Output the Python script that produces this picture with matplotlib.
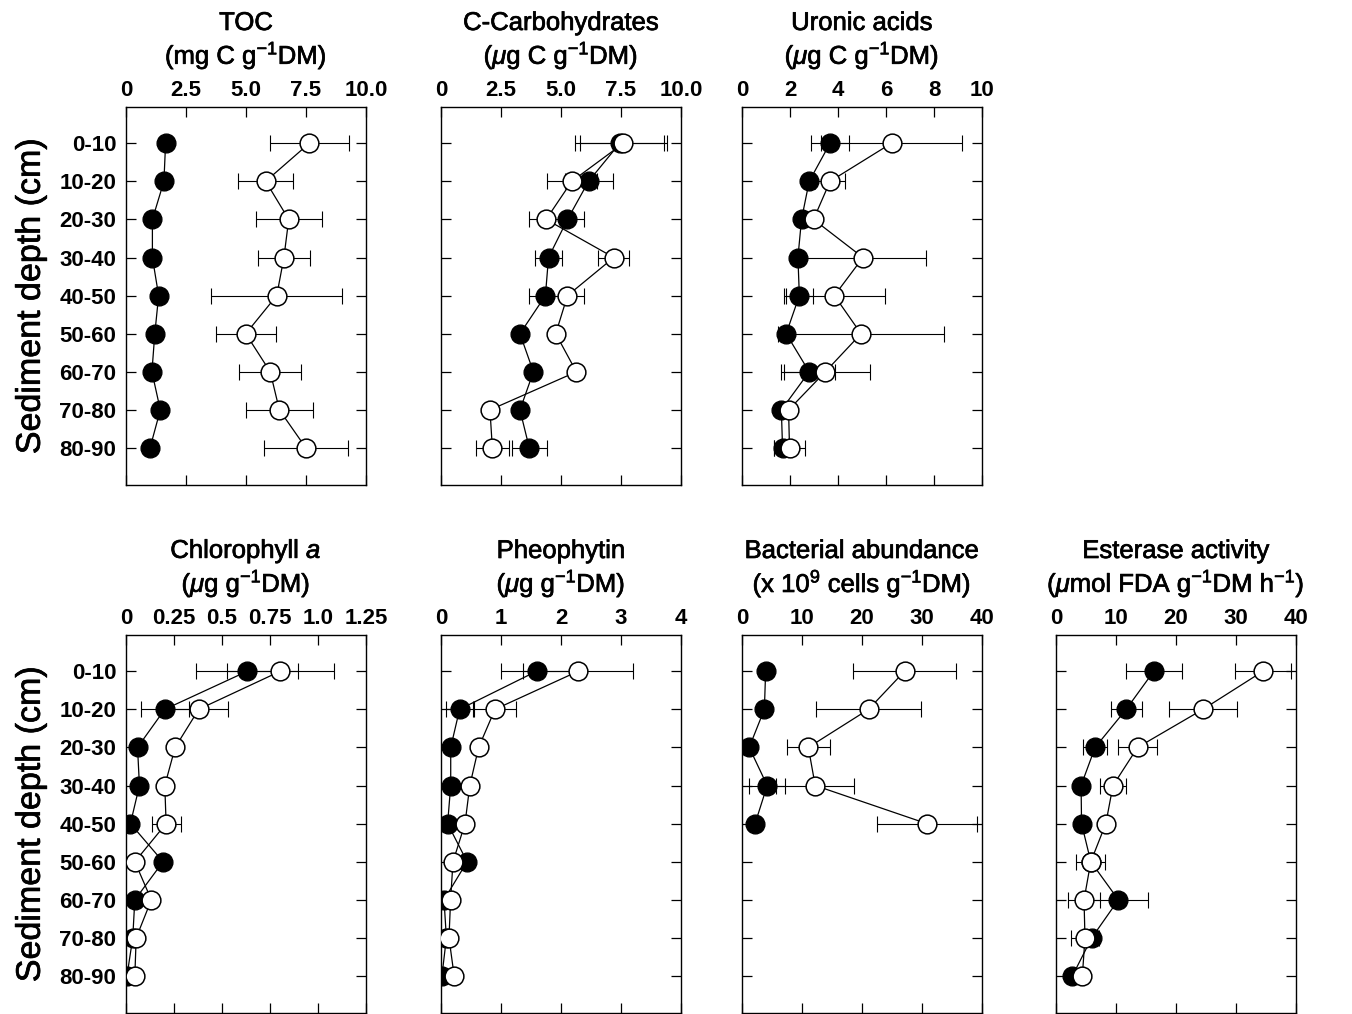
import numpy as np
import matplotlib
matplotlib.use("Agg")
import matplotlib.pyplot as plt
import matplotlib.patheffects as pe

plt.rcParams['font.family'] = ['Liberation Sans', 'DejaVu Sans']
plt.rcParams['mathtext.fontset'] = 'custom'
plt.rcParams['mathtext.rm'] = 'Liberation Sans'
plt.rcParams['mathtext.it'] = 'Liberation Sans:italic'
plt.rcParams['mathtext.bf'] = 'Liberation Sans:bold'

nan = np.nan
depths = ['0-10', '10-20', '20-30', '30-40', '40-50', '50-60', '60-70', '70-80', '80-90']

toc_f = [1.65, 1.58, 1.10, 1.10, 1.36, 1.20, 1.08, 1.43, 1.00]
toc_f_err = [0, 0, 0, 0, 0, 0, 0, 0, 0]
toc_o = [7.64, 5.82, 6.78, 6.58, 6.28, 4.99, 6.01, 6.39, 7.50]
toc_o_err = [1.66, 1.15, 1.38, 1.07, 2.73, 1.24, 1.30, 1.40, 1.76]

carb_f = [7.45, 6.15, 5.27, 4.48, 4.35, 3.29, 3.85, 3.29, 3.68]
carb_f_err = [1.85, 1.0, 0.67, 0.55, 0.69, 0, 0, 0, 0.74]
carb_o = [7.6, 5.45, 4.38, 7.2, 5.27, 4.78, 5.64, 2.04, 2.14]
carb_o_err = [1.8, 1.05, 0.7, 0.65, 0.67, 0, 0, 0, 0.7]

uron_f = [3.67, 2.8, 2.48, 2.33, 2.39, 1.84, 2.8, 1.64, 1.69]
uron_f_err = [0.8, 0, 0, 0, 0.55, 0, 1.07, 0, 0.37]
uron_o = [6.23, 3.67, 2.98, 5.04, 3.85, 4.96, 3.47, 1.94, 1.98]
uron_o_err = [2.94, 0.62, 0, 2.64, 2.1, 3.45, 1.86, 0, 0.65]

chl_f = [0.632, 0.202, 0.06, 0.07, 0.023, 0.193, 0.046, 0.035, 0.005]
chl_f_err = [0.265, 0.125, 0, 0, 0, 0, 0, 0, 0]
chl_o = [0.804, 0.379, 0.256, 0.202, 0.209, 0.046, 0.132, 0.053, 0.046]
chl_o_err = [0.28, 0.15, 0, 0, 0.075, 0, 0, 0, 0]

pheo_f = [1.594, 0.31, 0.162, 0.162, 0.11, 0.435, 0.05, 0.09, 0.015]
pheo_f_err = [0.6, 0.22, 0, 0, 0, 0, 0, 0, 0]
pheo_o = [2.288, 0.9, 0.627, 0.48, 0.40, 0.20, 0.16, 0.133, 0.22]
pheo_o_err = [0.92, 0.35, 0, 0, 0, 0, 0, 0, 0]

bact_f = [3.94, 3.73, 1.2, 4.2, 2.18, nan, nan, nan, nan]
bact_f_err = [0, 0, 0, 3.0, 0, 0, 0, 0, 0]
bact_o = [27.1, 21.1, 11.06, 12.2, 30.8, nan, nan, nan, nan]
bact_o_err = [8.6, 8.75, 3.6, 6.5, 8.35, 0, 0, 0, 0]

est_f = [16.3, 11.7, 6.52, 4.18, 4.26, 5.8, 10.4, 5.95, 2.72]
est_f_err = [4.7, 2.55, 1.95, 0, 0, 0, 5.0, 0, 0]
est_o = [34.5, 24.5, 13.6, 9.5, 8.3, 5.8, 4.67, 4.83, 4.39]
est_o_err = [4.7, 5.65, 3.3, 2.1, 0, 2.4, 2.63, 2.4, 0]

panels = [
    dict(t1='TOC', t2='(mg C g$^{-1}$DM)', xmax=10, ticks=[0, 2.5, 5, 7.5, 10],
         labels=['0', '2.5', '5.0', '7.5', '10.0'],
         f=toc_f, fe=toc_f_err, o=toc_o, oe=toc_o_err, row=0, col=0),
    dict(t1='C-Carbohydrates', t2='($\\mu$g C g$^{-1}$DM)', xmax=10, ticks=[0, 2.5, 5, 7.5, 10],
         labels=['0', '2.5', '5.0', '7.5', '10.0'],
         f=carb_f, fe=carb_f_err, o=carb_o, oe=carb_o_err, row=0, col=1),
    dict(t1='Uronic acids', t2='($\\mu$g C g$^{-1}$DM)', xmax=10, ticks=[0, 2, 4, 6, 8, 10],
         labels=['0', '2', '4', '6', '8', '10'],
         f=uron_f, fe=uron_f_err, o=uron_o, oe=uron_o_err, row=0, col=2),
    dict(t1='Chlorophyll $\\mathit{a}$', t2='($\\mu$g g$^{-1}$DM)', xmax=1.25,
         ticks=[0, 0.25, 0.5, 0.75, 1.0, 1.25],
         labels=['0', '0.25', '0.5', '0.75', '1.0', '1.25'],
         f=chl_f, fe=chl_f_err, o=chl_o, oe=chl_o_err, row=1, col=0),
    dict(t1='Pheophytin', t2='($\\mu$g g$^{-1}$DM)', xmax=4, ticks=[0, 1, 2, 3, 4],
         labels=['0', '1', '2', '3', '4'],
         f=pheo_f, fe=pheo_f_err, o=pheo_o, oe=pheo_o_err, row=1, col=1),
    dict(t1='Bacterial abundance', t2='(x 10$^{9}$ cells g$^{-1}$DM)', xmax=40,
         ticks=[0, 10, 20, 30, 40], labels=['0', '10', '20', '30', '40'],
         f=bact_f, fe=bact_f_err, o=bact_o, oe=bact_o_err, row=1, col=2),
    dict(t1='Esterase activity', t2='($\\mu$mol FDA g$^{-1}$DM h$^{-1}$)', xmax=40,
         ticks=[0, 10, 20, 30, 40], labels=['0', '10', '20', '30', '40'],
         f=est_f, fe=est_f_err, o=est_o, oe=est_o_err, row=1, col=3),
]

W, H = 1352, 1014
fig = plt.figure(figsize=(W / 100, H / 100), dpi=100)
fig.patch.set_facecolor('white')

col_left = [126, 441, 742, 1056]
row_top = [107, 635]
bw, bh = 240, 378

y = np.arange(len(depths))
thick = [pe.withStroke(linewidth=0.5, foreground='black')]

for p in panels:
    l = col_left[p['col']]
    t = row_top[p['row']]
    ax = fig.add_axes([l / W, 1 - (t + bh) / H, bw / W, bh / H])
    f = np.array(p['f'], dtype=float)
    o = np.array(p['o'], dtype=float)
    ax.errorbar(f, y, xerr=p['fe'], fmt='none', ecolor='black', elinewidth=0.8,
                capsize=5.5, capthick=0.8, zorder=1)
    ax.errorbar(o, y, xerr=p['oe'], fmt='none', ecolor='black', elinewidth=0.8,
                capsize=5.5, capthick=0.8, zorder=1)
    ax.plot(f, y, '-', color='black', lw=0.9, zorder=2)
    ax.plot(o, y, '-', color='black', lw=0.9, zorder=2)
    ax.plot(f, y, 'o', ms=13.5, mfc='black', mec='black', mew=1.0, zorder=3)
    ax.plot(o, y, 'o', ms=13.5, mfc='white', mec='black', mew=1.1, zorder=4)

    ax.set_xlim(0, p['xmax'])
    ax.set_ylim(8.97, -0.95)
    ax.set_xticks(p['ticks'])
    ax.set_xticklabels(p['labels'])
    ax.set_yticks(y)
    ax.set_yticklabels(depths)
    ax.tick_params(axis='both', direction='in', length=7, width=0.9,
                   top=True, bottom=True, left=True, right=True,
                   labeltop=True, labelbottom=False)
    ax.tick_params(axis='x', pad=4, labelsize=16)
    ax.tick_params(axis='y', pad=7, labelsize=16)
    for lab in ax.get_xticklabels() + ax.get_yticklabels():
        lab.set_fontweight('bold')
    if p['col'] != 0:
        ax.tick_params(axis='y', labelleft=False)
    else:
        ax.set_ylabel('Sediment depth (cm)', fontsize=24.5, labelpad=9,
                      path_effects=thick)
    for s in ax.spines.values():
        s.set_linewidth(1.0)

    ax.text(0.5, 1 + 77 / bh, p['t1'], transform=ax.transAxes, ha='center',
            va='baseline', fontsize=18.5, path_effects=thick)
    ax.text(0.5, 1 + 43 / bh, p['t2'], transform=ax.transAxes, ha='center',
            va='baseline', fontsize=18.5, path_effects=thick)

fig.savefig('out.png', dpi=100, facecolor='white')
